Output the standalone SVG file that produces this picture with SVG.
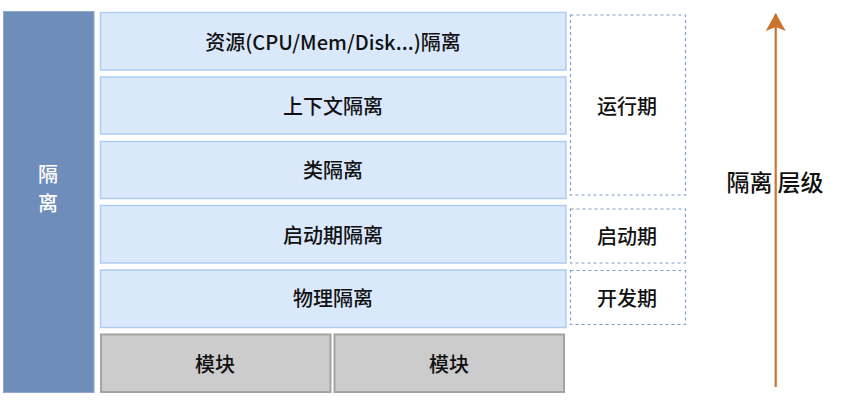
<svg xmlns="http://www.w3.org/2000/svg" width="849" height="400" viewBox="0 0 849 400">
<style>
text{font-family:"Noto Sans CJK SC","Liberation Sans",sans-serif;font-size:20px;font-weight:500;fill:#111;text-anchor:middle;dominant-baseline:central}
.layer{fill:#dae8fc;stroke:#aecdf3;stroke-width:1.5}
.phase{fill:#ffffff;stroke:#7f9cc6;stroke-width:1.2;stroke-dasharray:3 3}
.mod{fill:#cccccc;stroke:#a3a3a3;stroke-width:2}
.side{fill:#6f8dbb;stroke:#8ea8cf;stroke-width:1}
.white{fill:#ffffff}
.big{font-size:23px}
</style>
<defs>
<marker id="arr" viewBox="0 0 18 20" refX="17" refY="10" markerWidth="18" markerHeight="20" markerUnits="userSpaceOnUse" orient="auto">
<path d="M0 0 L18 10 L0 20 L4 10 Z" fill="#c87530"/>
</marker>
</defs>
<rect width="849" height="400" fill="#ffffff"/>
<g id="isolation">
<rect class="side" x="3.5" y="11.5" width="90.5" height="381"/>
<text class="white" x="48" y="173">隔</text>
<text class="white" x="48" y="202">离</text>
</g>
<g id="resource">
<rect class="layer" x="100.5" y="12.5" width="465.5" height="57.5"/>
<text x="333" y="41">资源(CPU/Mem/Disk...)隔离</text>
</g>
<g id="context">
<rect class="layer" x="100.5" y="77" width="465.5" height="57"/>
<text x="333" y="105">上下文隔离</text>
</g>
<g id="class">
<rect class="layer" x="100.5" y="141.5" width="465.5" height="57"/>
<text x="333" y="169">类隔离</text>
</g>
<g id="startup-iso">
<rect class="layer" x="100.5" y="205.5" width="465.5" height="57.5"/>
<text x="333" y="234">启动期隔离</text>
</g>
<g id="physical">
<rect class="layer" x="100.5" y="270" width="465.5" height="57.5"/>
<text x="333" y="297">物理隔离</text>
</g>
<g id="module1">
<rect class="mod" x="101" y="334.5" width="229.5" height="57.5"/>
<text x="215" y="363">模块</text>
</g>
<g id="module2">
<rect class="mod" x="334.5" y="334.5" width="229.5" height="57.5"/>
<text x="449" y="363">模块</text>
</g>
<g id="runtime">
<rect class="phase" x="570.5" y="15" width="115" height="180"/>
<text x="627" y="105">运行期</text>
</g>
<g id="startup">
<rect class="phase" x="570.5" y="209" width="115" height="54"/>
<text x="627" y="235">启动期</text>
</g>
<g id="dev">
<rect class="phase" x="570.5" y="270.5" width="115" height="54"/>
<text x="627" y="297">开发期</text>
</g>
<g id="connectors">
<line x1="775.7" y1="387" x2="775.7" y2="14" stroke="#c87530" stroke-width="2.2" marker-end="url(#arr)"/>
</g>
<g id="level-label">
<text class="big" x="775" y="181">隔离 层级</text>
</g>
</svg>
